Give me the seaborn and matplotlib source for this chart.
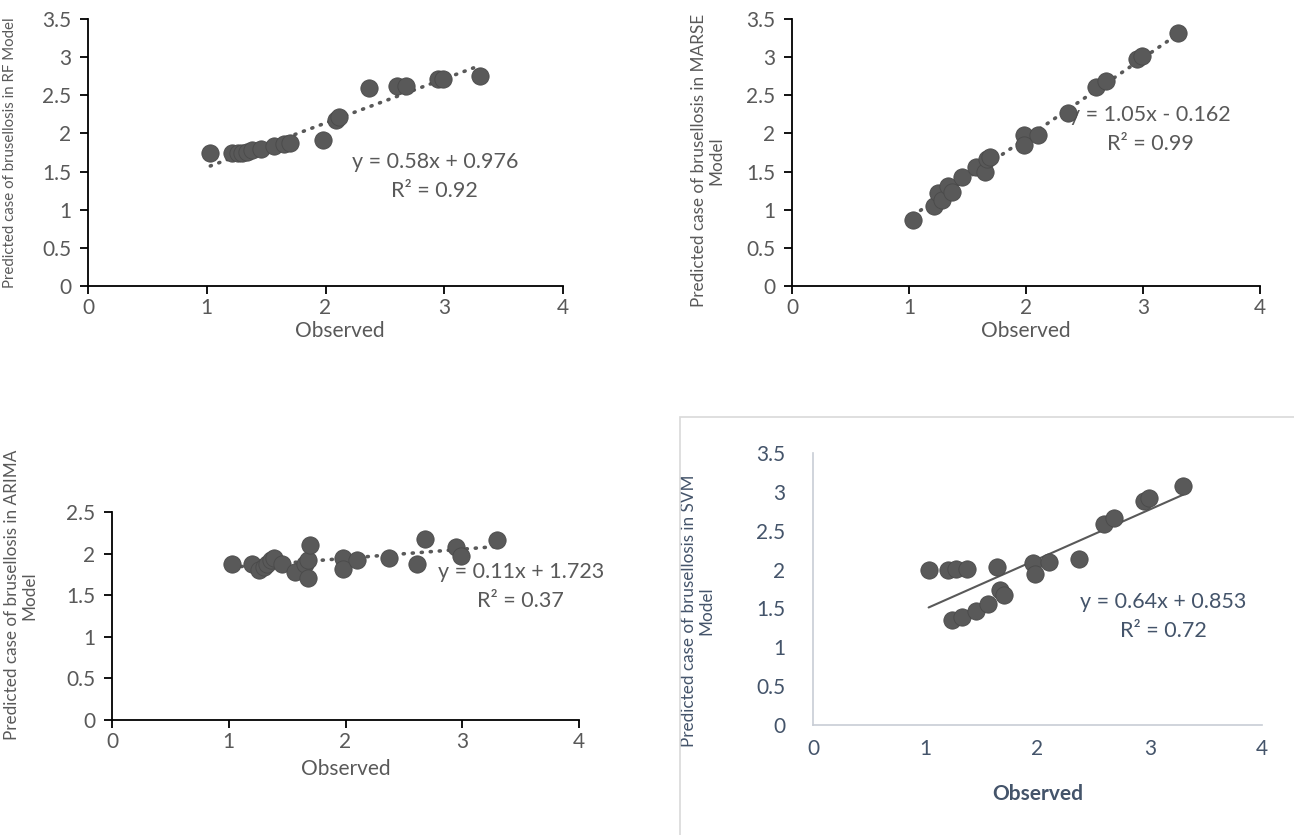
import numpy as np
import pandas as pd
import matplotlib.pyplot as plt
import seaborn as sns
from matplotlib.patches import Rectangle

# ------------------------------
# Data
# ------------------------------
rf_obs = [1.03, 1.21, 1.26, 1.30, 1.34, 1.38, 1.46, 1.57, 1.65, 1.70, 1.98, 2.09, 2.11, 2.37, 2.60, 2.68, 2.95, 2.99, 3.30]
rf_pred = [1.74, 1.75, 1.75, 1.75, 1.76, 1.78, 1.80, 1.83, 1.86, 1.87, 1.92, 2.18, 2.22, 2.59, 2.62, 2.62, 2.71, 2.71, 2.75]

marse_obs = [1.035, 1.21, 1.25, 1.28, 1.33, 1.37, 1.455, 1.57, 1.65, 1.67, 1.69, 1.98, 1.98, 2.10, 2.36, 2.60, 2.68, 2.95, 2.995, 3.30]
marse_pred = [0.87, 1.05, 1.22, 1.13, 1.31, 1.23, 1.43, 1.56, 1.49, 1.66, 1.69, 1.98, 1.85, 1.98, 2.27, 2.61, 2.69, 2.98, 3.01, 3.32]

arima_obs = [1.03, 1.20, 1.26, 1.30, 1.33, 1.36, 1.39, 1.46, 1.57, 1.65, 1.68, 1.70, 1.68, 1.98, 1.98, 2.10, 2.37, 2.61, 2.68, 2.95, 2.99, 3.30]
arima_pred = [1.88, 1.88, 1.80, 1.84, 1.87, 1.92, 1.95, 1.88, 1.78, 1.88, 1.92, 2.10, 1.71, 1.95, 1.81, 1.92, 1.95, 1.87, 2.17, 2.08, 1.97, 2.16]

svm_obs = [1.03, 1.20, 1.27, 1.375, 1.64, 1.67, 1.70, 1.24, 1.33, 1.455, 1.56, 1.96, 1.98, 2.10, 2.37, 2.59, 2.68, 2.95, 2.99, 3.30]
svm_pred = [1.99, 1.99, 2.01, 2.01, 2.03, 1.74, 1.67, 1.35, 1.39, 1.47, 1.56, 2.08, 1.94, 2.10, 2.14, 2.59, 2.66, 2.88, 2.92, 3.08]

model_names = ['RF', 'MARSE', 'ARIMA', 'SVM']
slopes = [0.58, 1.05, 0.11, 0.64]
intercepts = [0.976, -0.162, 1.723, 0.853]
eq_labels = ['y = 0.58x + 0.976', 'y = 1.05x - 0.162', 'y = 0.11x + 1.723', 'y = 0.64x + 0.853']
r2_labels = ['R² = 0.92', 'R² = 0.99', 'R² = 0.37', 'R² = 0.72']
ylabels = ['Predicted case of brusellosis in RF Model',
           'Predicted case of brusellosis in MARSE\nModel',
           'Predicted case of brusellosis in ARIMA\nModel',
           'Predicted case of brusellosis in SVM\nModel']
y_max = [3.5, 3.5, 2.5, 3.5]
y_ticks = [np.arange(0, 3.51, 0.5), np.arange(0, 3.51, 0.5), np.arange(0, 2.51, 0.5), np.arange(0, 3.51, 0.5)]
x_ticks = [0, 1, 2, 3, 4]

obs_list = [rf_obs, marse_obs, arima_obs, svm_obs]
pred_list = [rf_pred, marse_pred, arima_pred, svm_pred]

# ------------------------------
# Figure layout (pixel boxes: left, top, right, bottom)
# ------------------------------
sns.set_theme(style='white')
plt.rcParams['font.family'] = ['Lato', 'DejaVu Sans']

W, H = 1294, 835
fig = plt.figure(figsize=(W / 100, H / 100), dpi=100)

boxes = [(88, 19, 563, 286), (792, 19, 1260, 286), (112, 512, 579, 720), (813, 453, 1262, 725)]
ylab_pos = [(-0.165, 0.50), (-0.18, 0.47), (-0.195, 0.60), (-0.256, 0.42)]
ylab_size = [10.8, 12.3, 12.3, 12.3]
xlab_pos = [(0.53, -0.17), (0.50, -0.17), (0.50, -0.235), (0.50, -0.255)]
eq_pos = [(2.92, 1.625, 1.245), (3.06, 2.24, 1.86), (3.50, 1.78, 1.43), (3.12, 1.58, 1.21)]

gray = '#595959'
slate = '#44546A'

for i in range(4):
    l, t, r, b = boxes[i]
    ax = fig.add_axes([l / W, 1 - b / H, (r - l) / W, (b - t) / H])
    df = pd.DataFrame({'Observed': obs_list[i], 'Predicted': pred_list[i]})
    is_svm = model_names[i] == 'SVM'
    txt_col = slate if is_svm else gray

    # trend line from the reported equation
    xs = np.array([df['Observed'].min(), df['Observed'].max()])
    if is_svm:
        ax.plot(xs, slopes[i] * xs + intercepts[i], color=gray, lw=1.5, zorder=2)
    else:
        ax.plot(xs, slopes[i] * xs + intercepts[i], color=gray, lw=2.6,
                linestyle=(0, (0.3, 2.2)), dash_capstyle='round', zorder=2)

    sns.scatterplot(data=df, x='Observed', y='Predicted', ax=ax, s=155,
                    color=gray, edgecolor='#4a4a4a', linewidth=0.6, zorder=3)

    ax.set_xlim(0, 4)
    ax.set_ylim(0, y_max[i])
    ax.set_xticks(x_ticks)
    ax.set_yticks(y_ticks[i])
    ax.set_yticklabels([f'{v:g}' for v in y_ticks[i]])
    for s in ['top', 'right']:
        ax.spines[s].set_visible(False)

    if is_svm:
        for s in ['left', 'bottom']:
            ax.spines[s].set_color('#C8CDD5')
            ax.spines[s].set_linewidth(1.2)
        ax.tick_params(length=0, labelsize=15, labelcolor=slate)
        ax.tick_params(axis='x', pad=10)
        ax.tick_params(axis='y', pad=20)
    else:
        for s in ['left', 'bottom']:
            ax.spines[s].set_color('black')
            ax.spines[s].set_linewidth(1.3)
        ax.tick_params(direction='out', length=6, width=1.3, color='black',
                       labelsize=15, labelcolor=gray, bottom=True, left=True)
        ax.tick_params(axis='x', pad=3)
        ax.tick_params(axis='y', pad=6)

    ax.set_xlabel('Observed', fontsize=15, color=txt_col,
                  fontweight='bold' if is_svm else 'normal')
    ax.xaxis.set_label_coords(*xlab_pos[i])
    ax.xaxis.label.set_va('center')
    ax.set_ylabel(ylabels[i], fontsize=ylab_size[i], color=txt_col, linespacing=1.1)
    ax.yaxis.set_label_coords(*ylab_pos[i])
    ax.yaxis.label.set_va('center')

    ex, ey1, ey2 = eq_pos[i]
    ax.text(ex, ey1, eq_labels[i], ha='center', va='center', fontsize=15.5, color=txt_col, zorder=1)
    ax.text(ex, ey2, r2_labels[i], ha='center', va='center', fontsize=15.5, color=txt_col, zorder=1)

# light frame around the SVM chart
fig.add_artist(Rectangle((680 / W, -0.01), 1.0, 1 - 417 / H + 0.01, transform=fig.transFigure,
                         fill=False, edgecolor='#D9D9D9', lw=1.2))

plt.savefig('out.png', dpi=100)
